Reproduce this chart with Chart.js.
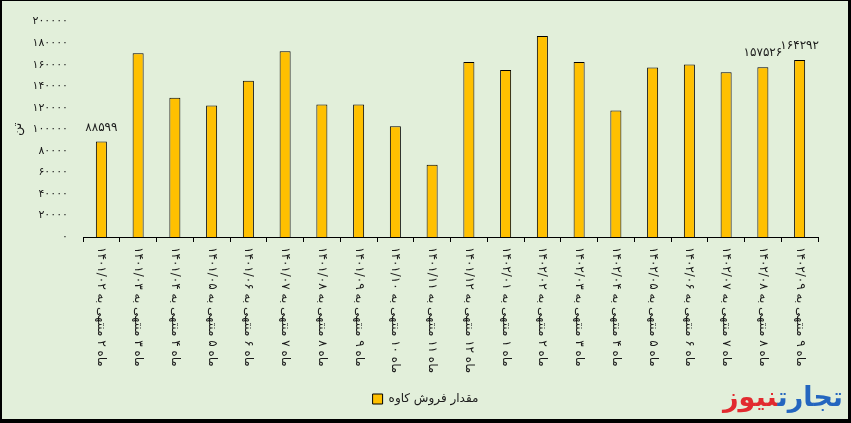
<!DOCTYPE html>
<html>
<head>
<meta charset="utf-8">
<script src="https://cdn.jsdelivr.net/npm/chart.js@4.4.0/dist/chart.umd.min.js"></script>
<style>
  html, body { margin: 0; padding: 0; background: #e2efda; }
  #wrap { position: relative; width: 851px; height: 423px; background: #e2efda; overflow: hidden; }
  #frame { position: absolute; left: 0; top: 0; right: 0; bottom: 0; box-sizing: border-box;
           border-style: solid; border-color: #000; border-width: 1px 3px 4px 2px; pointer-events: none; }
  #logo { position: absolute; right: 8px; top: 382px; direction: rtl; font-family: 'DejaVu Sans', sans-serif;
          font-weight: bold; font-size: 27px; line-height: 30px; letter-spacing: -1px; }
  #logo .b { color: #2466bf; }
  #logo .r { color: #e22a2f; }
</style>
</head>
<body>
<div id="wrap">
  <canvas id="c" width="851" height="423"></canvas>
  <div id="logo"><span class="b">تجارت</span><span class="r">نیوز</span></div>
  <div id="frame"></div>
</div>
<script>
const categories = [
  'ماه ۲ منتهی به ۱۴۰۱/۰۲', 'ماه ۳ منتهی به ۱۴۰۱/۰۳', 'ماه ۴ منتهی به ۱۴۰۱/۰۴', 'ماه ۵ منتهی به ۱۴۰۱/۰۵',
  'ماه ۶ منتهی به ۱۴۰۱/۰۶', 'ماه ۷ منتهی به ۱۴۰۱/۰۷', 'ماه ۸ منتهی به ۱۴۰۱/۰۸', 'ماه ۹ منتهی به ۱۴۰۱/۰۹',
  'ماه ۱۰ منتهی به ۱۴۰۱/۱۰', 'ماه ۱۱ منتهی به ۱۴۰۱/۱۱', 'ماه ۱۲ منتهی به ۱۴۰۱/۱۲', 'ماه ۱ منتهی به ۱۴۰۲/۰۱',
  'ماه ۲ منتهی به ۱۴۰۲/۰۲', 'ماه ۳ منتهی به ۱۴۰۲/۰۳', 'ماه ۴ منتهی به ۱۴۰۲/۰۴', 'ماه ۵ منتهی به ۱۴۰۲/۰۵',
  'ماه ۶ منتهی به ۱۴۰۲/۰۶', 'ماه ۷ منتهی به ۱۴۰۲/۰۷', 'ماه ۸ منتهی به ۱۴۰۲/۰۸', 'ماه ۹ منتهی به ۱۴۰۲/۰۹'
];
const salesKaveh = [
  88599, 170650, 129370, 122030, 144970, 172490, 122950, 122950, 102760, 66980,
  162400, 155060, 186530, 162400, 117440, 157440, 160200, 152860, 157526, 164292
];
const labeledIdx = [0, 18, 19];
const seriesName = 'مقدار فروش کاوه';
const yTitle = 'تن';
const yMin = 0, yMax = 200000, yStep = 20000;

const FONT = "'DejaVu Sans', sans-serif";
const fa = s => String(s).replace(/\d/g, d => '۰۱۲۳۴۵۶۷۸۹'[d]);

const drawExtras = {
  id: 'drawExtras',
  afterDatasetsDraw(chart) {
    const ctx = chart.ctx;
    const meta = chart.getDatasetMeta(0);
    ctx.save();
    ctx.font = '12px ' + FONT;
    ctx.fillStyle = '#1a1a1a';
    ctx.textAlign = 'center';
    ctx.textBaseline = 'middle';
    labeledIdx.forEach(i => {
      const el = meta.data[i];
      ctx.fillText(fa(salesKaveh[i]), el.x, el.y - 14);
    });
    ctx.restore();
  },
  afterDraw(chart) {
    const ctx = chart.ctx;
    const xs = chart.scales.x;
    ctx.save();
    ctx.font = '12px ' + FONT;
    ctx.fillStyle = '#1a1a1a';
    ctx.direction = 'rtl';
    ctx.textAlign = 'left';
    ctx.textBaseline = 'middle';
    categories.forEach((lab, i) => {
      const x = xs.getPixelForValue(i);
      ctx.save();
      ctx.translate(x, xs.top + 10);
      ctx.rotate(Math.PI / 2);
      ctx.fillText(lab, 0, 0);
      ctx.restore();
    });
    ctx.restore();
  }
};

new Chart(document.getElementById('c'), {
  type: 'bar',
  data: {
    labels: categories,
    datasets: [{
      label: seriesName,
      data: salesKaveh,
      backgroundColor: '#ffc000',
      borderColor: '#000000',
      borderWidth: 1,
      borderSkipped: 'bottom',
      barPercentage: 0.3,
      categoryPercentage: 1.0
    }]
  },
  options: {
    responsive: false,
    animation: false,
    devicePixelRatio: 1,
    layout: { padding: { top: 20, right: 0, left: 0, bottom: 8 } },
    plugins: {
      legend: {
        position: 'bottom',
        labels: {
          font: { family: FONT, size: 12 },
          color: '#1a1a1a',
          boxWidth: 10, boxHeight: 10,
          padding: 10
        }
      },
      tooltip: { enabled: false }
    },
    scales: {
      x: {
        ticks: { display: false },
        grid: { display: true, drawOnChartArea: false, drawTicks: true, tickLength: 5, color: '#000', offset: true },
        border: { display: true, color: '#000', width: 1 },
        afterFit(scale) { scale.height = 146; }
      },
      y: {
        min: yMin, max: yMax,
        ticks: { stepSize: yStep, padding: 15, color: '#1a1a1a', font: { family: FONT, size: 11 }, callback: v => fa(v) },
        grid: { display: false, drawTicks: false },
        border: { display: false },
        title: { display: true, text: yTitle, color: '#1a1a1a', font: { family: FONT, size: 13 }, padding: { top: 10, bottom: 0 } },
        afterFit(scale) { scale.width = 83; }
      },
      yRight: {
        position: 'right',
        display: true,
        min: yMin, max: yMax,
        ticks: { display: false },
        grid: { display: false, drawTicks: false },
        border: { display: false },
        afterFit(scale) { scale.width = 33; }
      }
    }
  },
  plugins: [drawExtras]
});
</script>
</body>
</html>
